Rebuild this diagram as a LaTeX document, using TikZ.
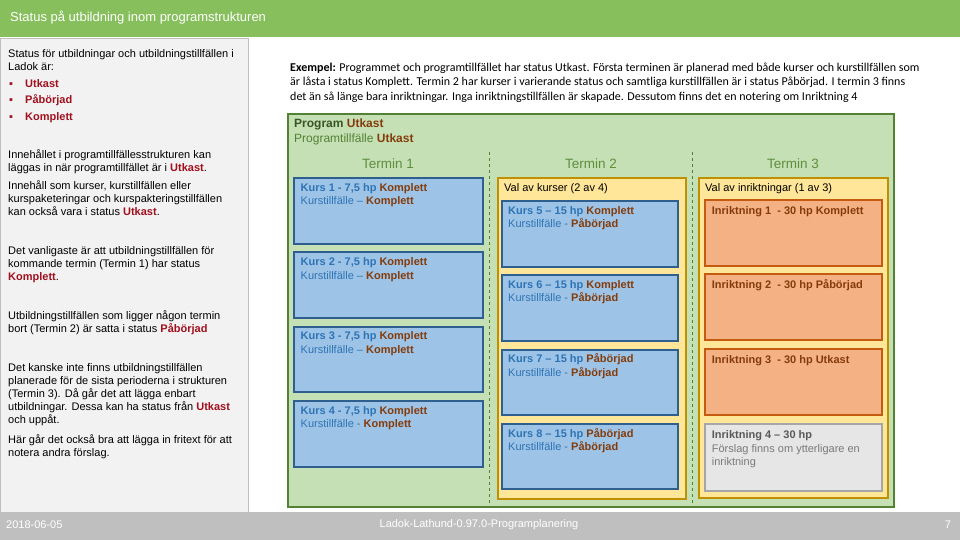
\documentclass[tikz,border=0pt]{standalone}
\usepackage{fontspec}
\setmainfont{Liberation Sans}
\newfontfamily\exfont{Carlito}
\usepackage{tikz}
\usetikzlibrary{positioning}
\definecolor{headgreen}{HTML}{86BF5B}
\definecolor{panelgray}{HTML}{F2F2F2}
\definecolor{linegray}{HTML}{BFBFBF}
\definecolor{proggreen}{HTML}{C5E0B4}
\definecolor{progline}{HTML}{548235}
\definecolor{progtext}{HTML}{385723}
\definecolor{termtext}{HTML}{5E8E3E}
\definecolor{valfill}{HTML}{FFE699}
\definecolor{valline}{HTML}{BF9000}
\definecolor{kursfill}{HTML}{9DC3E6}
\definecolor{kursline}{HTML}{2F5F8F}
\definecolor{kurstext}{HTML}{2E74B5}
\definecolor{inrfill}{HTML}{F4B183}
\definecolor{inrline}{HTML}{C55A11}
\definecolor{statbrown}{HTML}{843C0C}
\definecolor{notefill}{HTML}{E7E6E6}
\definecolor{noteline}{HTML}{A6A6A6}
\definecolor{notetext}{HTML}{595959}
\definecolor{ladokred}{HTML}{A0101E}
\newcommand{\stat}[1]{\textbf{\color{statbrown}#1}}
\newcommand{\lred}[1]{\textbf{\color{ladokred}#1}}

\begin{document}
\begin{tikzpicture}[x=1pt,y=-1pt,
  sidetext/.style={anchor=north west,inner sep=0pt,align=left,
                   font=\fontsize{11}{13}\selectfont},
  boxtext/.style={anchor=north west,inner sep=0pt,align=left,
                  font=\fontsize{11}{13.5}\selectfont},
  kursbox/.style={draw=kursline,line width=2pt,fill=kursfill,anchor=north west,
                  minimum height=65.5pt},
  inrbox/.style={draw=inrline,line width=2pt,fill=inrfill,anchor=north west,
                 minimum width=177pt,minimum height=66pt},
  notebox/.style={draw=noteline,line width=2pt,fill=notefill,anchor=north west,
                  minimum width=177pt,minimum height=67pt},
  valbox/.style={draw=valline,line width=2pt,fill=valfill,anchor=north west},
  termhead/.style={text=termtext,font=\fontsize{13.5}{16}\selectfont},
  footer/.style={text=white,font=\fontsize{11}{13}\selectfont}]

  % slide frame
  \useasboundingbox (0,0) rectangle (960,540);
  \fill[headgreen] (0,0) rectangle (960,37);
  \node[anchor=west,inner sep=0pt,text=white,font=\fontsize{13}{15}\selectfont] (title) at (10,18)
    {Status på utbildning inom programstrukturen};
  \filldraw[fill=panelgray,draw=linegray] (0,38) rectangle (248,512);
  \fill[linegray] (0,512) rectangle (960,540);

  % left panel
  \node[sidetext] (intro) at (8,47.9)
    {\strut Status för utbildningar och utbildningstillfällen i\\Ladok är:};
  \node[sidetext,font=\fontsize{11}{16.5}\selectfont] (bullets) at (9,75.5)
    {\strut\makebox[16pt][l]{\color{ladokred}▪}\lred{Utkast}\\
     \makebox[16pt][l]{\color{ladokred}▪}\lred{Påbörjad}\\
     \makebox[16pt][l]{\color{ladokred}▪}\lred{Komplett}};
  \node[sidetext] (innehallet) at (8,148.9)
    {\strut Innehållet i programtillfällesstrukturen kan\\
     läggas in när programtillfället är i \lred{Utkast}.};
  \node[sidetext] (innehall) at (8,180)
    {\strut Innehåll som kurser, kurstillfällen eller\\
     kurspaketeringar och kurspakteringstillfällen\\
     kan också vara i status \lred{Utkast}.};
  \node[sidetext] (vanligaste) at (8,245)
    {\strut Det vanligaste är att utbildningstillfällen för\\
     kommande termin (Termin 1) har status\\
     \lred{Komplett}.};
  \node[sidetext] (senare) at (8,310)
    {\strut Utbildningstillfällen som ligger någon termin\\
     bort (Termin 2) är satta i status \lred{Påbörjad}};
  \node[sidetext] (sista) at (8,362)
    {\strut Det kanske inte finns utbildningstillfällen\\
     planerade för de sista perioderna i strukturen\\
     (Termin 3). Då går det att lägga enbart\\
     utbildningar. Dessa kan ha status från \lred{Utkast}\\
     och uppåt.};
  \node[sidetext] (fritext) at (8,434)
    {\strut Här går det också bra att lägga in fritext för att\\
     notera andra förslag.};

  % example text
  \node[anchor=north west,inner sep=0pt,align=left,
        font=\exfont\fontsize{12}{14.5}\selectfont] (exempel) at (290,61)
    {\strut\textbf{Exempel:} Programmet och programtillfället har status Utkast. Första terminen är planerad med både kurser och kurstillfällen som\\
     är låsta i status Komplett. Termin 2 har kurser i varierande status och samtliga kurstillfällen är i status Påbörjad. I termin 3 finns\\
     det än så länge bara inriktningar. Inga inriktningstillfällen är skapade. Dessutom finns det en notering om Inriktning 4};

  % program
  \node[draw=progline,line width=2pt,fill=proggreen,anchor=north west,
        minimum width=606pt,minimum height=393pt] (prog) at (287,113) {};
  \node[anchor=north west,inner sep=0pt,align=left,font=\fontsize{12}{15}\selectfont]
    (prog-txt) at ([shift={(7,4)}]prog.north west)
    {\strut\textbf{\color{progtext}Program} \stat{Utkast}\\
     {\color{progline}Programtillfälle} \stat{Utkast}};
  \node[termhead] (termin1) at (388,164) {Termin 1};
  \node[termhead] (termin2) at (591,164) {Termin 2};
  \node[termhead] (termin3) at (793,164) {Termin 3};
  \draw[progline,dashed] (489,152) -- (489,505);
  \draw[progline,dashed] (692,152) -- (692,505);

  % termin 1
  \foreach \n/\top/\kdash in {1/177/–,2/251.4/–,3/325.8/–,4/400.2/-}{
    \node[kursbox,minimum width=189pt] (kurs\n) at (293,\top) {};
    \node[boxtext,text=kurstext] (kurs\n-txt) at ([shift={(7.5,4.5)}]kurs\n.north west)
      {\strut\textbf{Kurs \n\ - 7,5 hp} \stat{Komplett}\\Kurstillfälle \kdash{} \stat{Komplett}};
  }

  % termin 2
  \node[valbox,minimum width=188pt,minimum height=321pt] (val2) at (497,177) {};
  \node[boxtext] (val2-txt) at ([shift={(7,4.5)}]val2.north west)
    {\strut Val av kurser (2 av 4)};
  \foreach \n/\top/\kstat in {5/200/Komplett,6/274.3/Komplett,7/348.6/Påbörjad,8/422.9/Påbörjad}{
    \node[kursbox,minimum width=176pt] (kurs\n) at (501,\top) {};
    \node[boxtext,text=kurstext] (kurs\n-txt) at ([shift={(7,4.5)}]kurs\n.north west)
      {\strut\textbf{Kurs \n\ – 15 hp} \stat{\kstat}\\Kurstillfälle - \stat{Påbörjad}};
  }

  % termin 3
  \node[valbox,minimum width=189pt,minimum height=320pt] (val3) at (698,177) {};
  \node[boxtext] (val3-txt) at ([shift={(7,4.5)}]val3.north west)
    {\strut Val av inriktningar (1 av 3)};
  \foreach \n/\top/\istat in {1/199/Komplett,2/273.3/Påbörjad,3/347.6/Utkast}{
    \node[inrbox] (inr\n) at (704,\top) {};
    \node[boxtext,text=statbrown] (inr\n-txt) at ([shift={(7.7,6)}]inr\n.north west)
      {\strut\textbf{Inriktning \n\ \ - 30 hp \istat}};
  }
  \node[notebox] (inr4) at (704,423) {};
  \node[boxtext,text=notetext] (inr4-txt) at ([shift={(7.7,6)}]inr4.north west)
    {\strut\textbf{Inriktning 4 – 30 hp}\\
     {\color{notetext!80}Förslag finns om ytterligare en}\\
     {\color{notetext!80}inriktning}};

  % footer
  \node[footer,anchor=west,inner sep=0pt] (datum) at (6,525) {2018-06-05};
  \node[footer] (lathund) at (479,525) {Ladok-Lathund-0.97.0-Programplanering};
  \node[footer] (sida) at (948,525) {7};
\end{tikzpicture}
\end{document}
